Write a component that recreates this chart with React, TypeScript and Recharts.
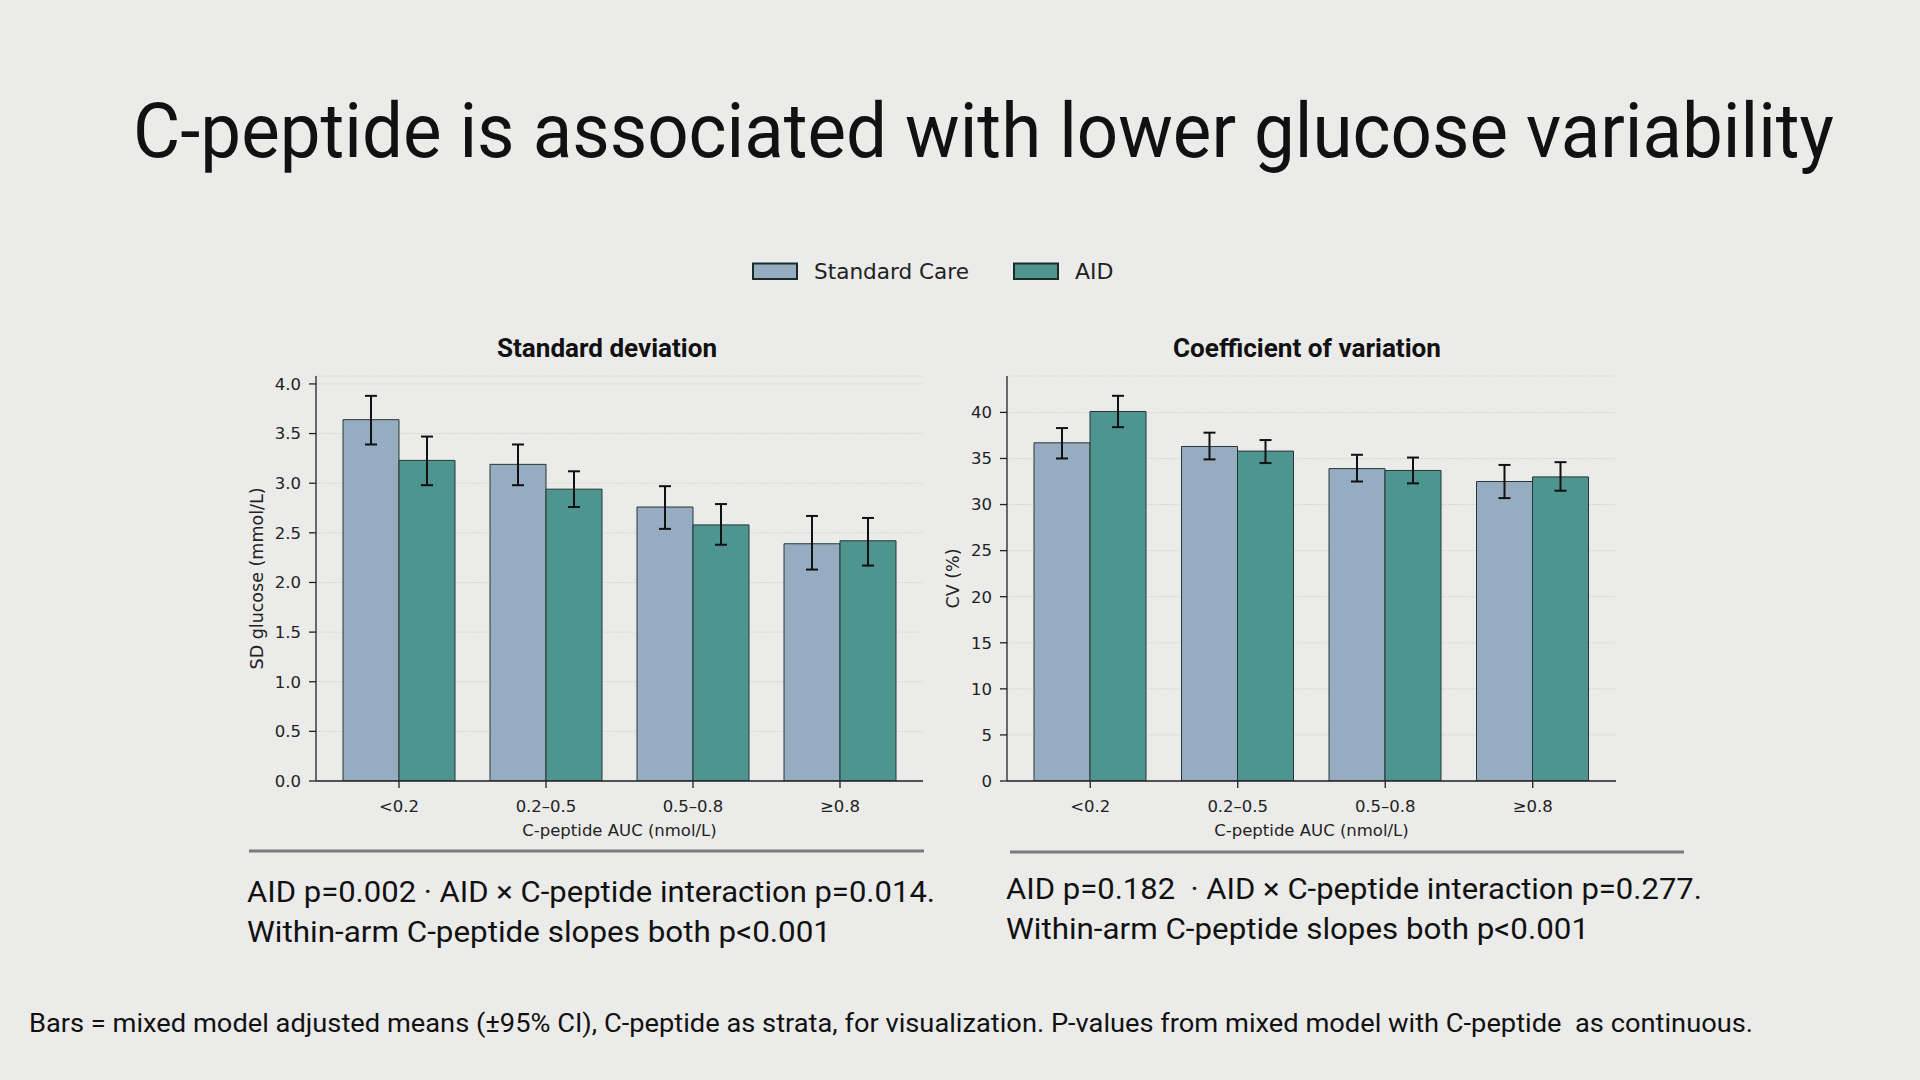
import { BarChart, Bar, XAxis, YAxis, CartesianGrid, ErrorBar, Label } from "recharts";

const groups = ["<0.2", "0.2–0.5", "0.5–0.8", "≥0.8"];

// SD glucose (mmol/L)
const sdStandard = [3.64, 3.19, 2.76, 2.39];
const sdStandardLo = [3.39, 2.98, 2.54, 2.13];
const sdStandardHi = [3.88, 3.39, 2.97, 2.67];
const sdAid = [3.23, 2.94, 2.58, 2.42];
const sdAidLo = [2.98, 2.76, 2.38, 2.17];
const sdAidHi = [3.47, 3.12, 2.79, 2.65];
const sdTicks = [0, 0.5, 1, 1.5, 2, 2.5, 3, 3.5, 4];

// CV (%)
const cvStandard = [36.7, 36.3, 33.9, 32.5];
const cvStandardLo = [35.0, 34.9, 32.5, 30.7];
const cvStandardHi = [38.3, 37.8, 35.4, 34.3];
const cvAid = [40.1, 35.8, 33.7, 33.0];
const cvAidLo = [38.4, 34.5, 32.3, 31.5];
const cvAidHi = [41.8, 37.0, 35.1, 34.6];
const cvTicks = [0, 5, 10, 15, 20, 25, 30, 35, 40];

const SC_COLOR = "#96acc0";
const AID_COLOR = "#4e9590";
const EDGE = "#263636";
const BG = "#ebebea";
const TICK_FONT = { fill: "#222", fontSize: 16.5, fontFamily: "DejaVu Sans" };

function makeRows(sc: number[], scLo: number[], scHi: number[], aid: number[], aidLo: number[], aidHi: number[]) {
  return groups.map((g, i) => ({
    group: g,
    sc: sc[i],
    aid: aid[i],
    scErr: [sc[i] - scLo[i], scHi[i] - sc[i]],
    aidErr: [aid[i] - aidLo[i], aidHi[i] - aid[i]],
  }));
}

const sdRows = makeRows(sdStandard, sdStandardLo, sdStandardHi, sdAid, sdAidLo, sdAidHi);
const cvRows = makeRows(cvStandard, cvStandardLo, cvStandardHi, cvAid, cvAidLo, cvAidHi);

function Panel({
  rows, ticks, top, fmt, yLabel, axisWidth, width,
}: {
  // eslint-disable-next-line @typescript-eslint/no-explicit-any
  rows: any[]; ticks: number[]; top: number; fmt: (v: number) => string; yLabel: string; axisWidth: number; width: number;
}) {
  return (
    <BarChart
      width={width}
      height={475}
      data={rows}
      margin={{ top: 10, right: 10, left: 0, bottom: 0 }}
      barCategoryGap={17.5}
      barGap={0}
    >
      <CartesianGrid vertical={false} stroke="#cfcfcf" strokeDasharray="1.5 1.5" />
      <XAxis
        dataKey="group"
        padding={{ left: 9.5, right: 9.5 }}
        height={60}
        tickSize={7}
        tickMargin={12}
        tick={TICK_FONT}
        axisLine={{ stroke: "#222", strokeWidth: 1.3 }}
        tickLine={{ stroke: "#222", strokeWidth: 1.3 }}
      >
        <Label value="C-peptide AUC (nmol/L)" position="insideBottom" offset={5} fill="#222" fontSize={16.5} fontFamily="DejaVu Sans" />
      </XAxis>
      <YAxis
        domain={[0, top]}
        ticks={ticks}
        allowDataOverflow
        tickFormatter={fmt}
        width={axisWidth}
        tickSize={7}
        tickMargin={8}
        tick={TICK_FONT}
        axisLine={{ stroke: "#222", strokeWidth: 1.3 }}
        tickLine={{ stroke: "#222", strokeWidth: 1.3 }}
      >
        <Label value={yLabel} position="center" angle={-90} fill="#222" fontSize={17.5} fontFamily="DejaVu Sans" />
      </YAxis>
      <Bar dataKey="sc" fill={SC_COLOR} stroke={EDGE} strokeWidth={1} isAnimationActive={false}>
        <ErrorBar dataKey="scErr" width={6} stroke="#111" strokeWidth={2} direction="y" isAnimationActive={false} />
      </Bar>
      <Bar dataKey="aid" fill={AID_COLOR} stroke={EDGE} strokeWidth={1} isAnimationActive={false}>
        <ErrorBar dataKey="aidErr" width={6} stroke="#111" strokeWidth={2} direction="y" isAnimationActive={false} />
      </Bar>
    </BarChart>
  );
}

const textFont = "Roboto, 'Noto Sans', sans-serif";

export default function App() {
  return (
    <div style={{ position: "absolute", left: 0, top: 0, width: 1920, height: 1080, background: BG, overflow: "hidden" }}>
      <div style={{ position: "absolute", left: 197, top: 366 }}>
        <Panel rows={sdRows} ticks={sdTicks} top={4.08} fmt={(v) => v.toFixed(1)} yLabel="SD glucose (mmol/L)" axisWidth={119} width={736} />
      </div>
      <div style={{ position: "absolute", left: 899, top: 366 }}>
        <Panel rows={cvRows} ticks={cvTicks} top={43.95} fmt={(v) => String(v)} yLabel="CV (%)" axisWidth={108} width={727} />
      </div>
      <svg width={1920} height={1080} style={{ position: "absolute", left: 0, top: 0, pointerEvents: "none" }}>
        <text x={133} y={157} fontSize={76} fontFamily={textFont} fill="#111" textLength={1701} lengthAdjust="spacingAndGlyphs">
          C-peptide is associated with lower glucose variability
        </text>

        {/* legend */}
        <rect x={753} y={263.5} width={44} height={15.5} fill={SC_COLOR} stroke="#1e2a2a" strokeWidth={2} />
        <text x={814} y={279} fontSize={22} fontFamily="DejaVu Sans" fill="#222" textLength={155} lengthAdjust="spacingAndGlyphs">Standard Care</text>
        <rect x={1014} y={263.5} width={44} height={15.5} fill={AID_COLOR} stroke="#1e2a2a" strokeWidth={2} />
        <text x={1075} y={279} fontSize={22} fontFamily="DejaVu Sans" fill="#222">AID</text>

        {/* panel titles */}
        <text x={497} y={356.5} fontSize={26} fontWeight={700} fontFamily={textFont} fill="#111" textLength={220} lengthAdjust="spacingAndGlyphs">Standard deviation</text>
        <text x={1173} y={356.5} fontSize={26} fontWeight={700} fontFamily={textFont} fill="#111" textLength={268} lengthAdjust="spacingAndGlyphs">Coefficient of variation</text>

        {/* separators */}
        <line x1={249} x2={924} y1={851} y2={851} stroke="#7a7a7a" strokeWidth={3} />
        <line x1={1010} x2={1684} y1={852} y2={852} stroke="#7a7a7a" strokeWidth={3} />

        {/* stats */}
        <text x={247} y={902} fontSize={29} fontFamily={textFont} fill="#111" textLength={688} lengthAdjust="spacingAndGlyphs" style={{ whiteSpace: "pre" }}>
          AID p=0.002 · AID × C-peptide interaction p=0.014.
        </text>
        <text x={247} y={941.5} fontSize={29} fontFamily={textFont} fill="#111" textLength={584} lengthAdjust="spacingAndGlyphs">
          Within-arm C-peptide slopes both p&lt;0.001
        </text>
        <text x={1006} y={899} fontSize={29} fontFamily={textFont} fill="#111" textLength={696} lengthAdjust="spacingAndGlyphs" style={{ whiteSpace: "pre" }}>
          {"AID p=0.182  · AID × C-peptide interaction p=0.277."}
        </text>
        <text x={1006} y={938.5} fontSize={29} fontFamily={textFont} fill="#111" textLength={583} lengthAdjust="spacingAndGlyphs">
          Within-arm C-peptide slopes both p&lt;0.001
        </text>

        {/* footnote */}
        <text x={29} y={1031.5} fontSize={25} fontFamily={textFont} fill="#111" textLength={1724} lengthAdjust="spacingAndGlyphs" style={{ whiteSpace: "pre" }}>
          {"Bars = mixed model adjusted means (±95% CI), C-peptide as strata, for visualization. P-values from mixed model with C-peptide  as continuous."}
        </text>
      </svg>
    </div>
  );
}
